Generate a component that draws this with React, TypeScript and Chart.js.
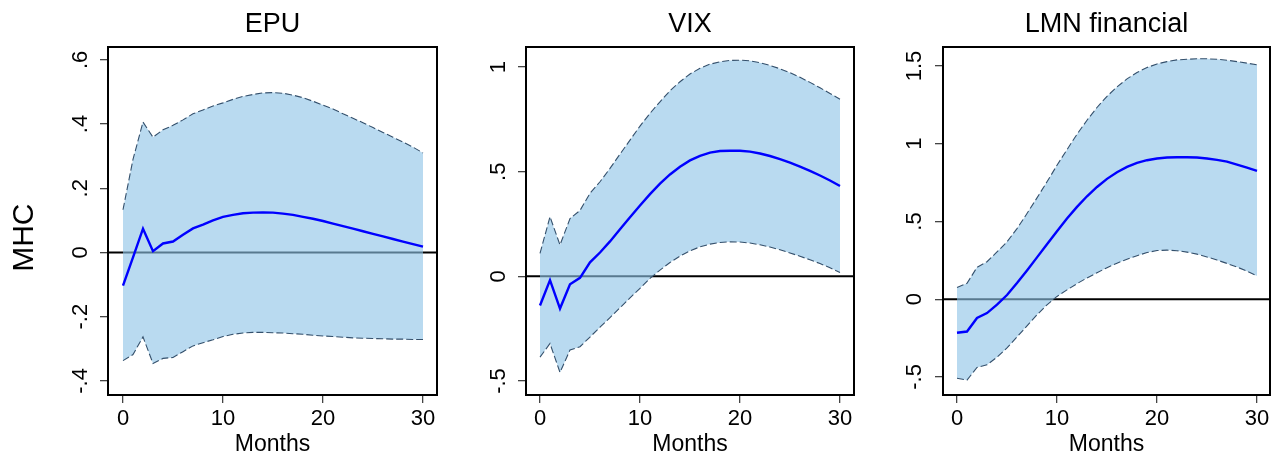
import React, { useEffect, useRef } from 'react';
import { Chart, registerables } from 'chart.js';

Chart.register(...registerables);

const FONT = "'Liberation Sans', Arial, Helvetica, sans-serif";

// ---------- data ----------
const months = [0, 1, 2, 3, 4, 5, 6, 7, 8, 9, 10, 11, 12, 13, 14, 15, 16, 17, 18, 19, 20, 21, 22, 23, 24, 25, 26, 27, 28, 29, 30];
const xTicks = [0, 10, 20, 30];

const epuMean = [-0.103, -0.015, 0.074, 0.004, 0.028, 0.034, 0.055, 0.075, 0.087, 0.100, 0.111, 0.117, 0.122, 0.124, 0.125, 0.124, 0.121, 0.117, 0.111, 0.105, 0.098, 0.090, 0.082, 0.074, 0.066, 0.058, 0.050, 0.042, 0.034, 0.026, 0.018];
const epuUpper = [0.133, 0.29, 0.406, 0.359, 0.382, 0.396, 0.413, 0.432, 0.444, 0.456, 0.466, 0.477, 0.486, 0.492, 0.497, 0.498, 0.496, 0.490, 0.482, 0.471, 0.459, 0.447, 0.432, 0.418, 0.404, 0.389, 0.374, 0.359, 0.344, 0.328, 0.310];
const epuLower = [-0.337, -0.318, -0.263, -0.346, -0.330, -0.327, -0.309, -0.291, -0.281, -0.272, -0.262, -0.255, -0.251, -0.249, -0.249, -0.250, -0.251, -0.253, -0.255, -0.258, -0.260, -0.262, -0.264, -0.266, -0.267, -0.268, -0.269, -0.270, -0.270, -0.271, -0.271];
const epuYTicks = [-0.4, -0.2, 0, 0.2, 0.4, 0.6];

const vixMean = [-0.139, -0.018, -0.154, -0.038, -0.007, 0.067, 0.114, 0.167, 0.225, 0.282, 0.339, 0.393, 0.443, 0.487, 0.524, 0.554, 0.576, 0.591, 0.599, 0.600, 0.600, 0.596, 0.587, 0.575, 0.560, 0.543, 0.524, 0.504, 0.482, 0.458, 0.432];
const vixUpper = [0.110, 0.285, 0.150, 0.276, 0.315, 0.397, 0.452, 0.516, 0.584, 0.651, 0.718, 0.779, 0.834, 0.887, 0.930, 0.967, 0.994, 1.014, 1.025, 1.032, 1.033, 1.030, 1.021, 1.008, 0.992, 0.973, 0.951, 0.927, 0.901, 0.874, 0.846];
const vixLower = [-0.386, -0.321, -0.459, -0.352, -0.336, -0.290, -0.243, -0.197, -0.150, -0.103, -0.057, -0.010, 0.030, 0.066, 0.097, 0.122, 0.141, 0.154, 0.162, 0.165, 0.164, 0.159, 0.151, 0.140, 0.127, 0.112, 0.096, 0.079, 0.061, 0.041, 0.018];
const vixYTicks = [-0.5, 0, 0.5, 1];

const lmnMean = [-0.216, -0.208, -0.121, -0.089, -0.035, 0.027, 0.104, 0.185, 0.269, 0.354, 0.437, 0.519, 0.594, 0.662, 0.722, 0.774, 0.817, 0.851, 0.877, 0.894, 0.905, 0.911, 0.913, 0.913, 0.911, 0.905, 0.896, 0.885, 0.866, 0.846, 0.825];
const lmnUpper = [0.075, 0.102, 0.205, 0.241, 0.304, 0.369, 0.454, 0.551, 0.652, 0.755, 0.862, 0.962, 1.061, 1.151, 1.233, 1.305, 1.365, 1.417, 1.458, 1.490, 1.513, 1.528, 1.539, 1.543, 1.546, 1.546, 1.543, 1.537, 1.528, 1.518, 1.507];
const lmnLower = [-0.508, -0.520, -0.439, -0.422, -0.373, -0.313, -0.243, -0.171, -0.100, -0.036, 0.018, 0.060, 0.100, 0.137, 0.170, 0.203, 0.232, 0.257, 0.280, 0.300, 0.313, 0.316, 0.312, 0.303, 0.290, 0.272, 0.252, 0.230, 0.207, 0.180, 0.150];
const lmnYTicks = [-0.5, 0, 0.5, 1, 1.5];

const panelTitles = ['EPU', 'VIX', 'LMN financial'];
const yAxisTitle = 'MHC';
const xAxisTitle = 'Months';

// ---------- styles ----------
const BAND = 'rgba(142,196,230,0.62)';
const EDGE = '#34506c';
const MEAN = '#0000ff';
const TICK = '#444444';

function fmt(v: number): string {
  if (Math.abs(v) < 1e-9) return '0';
  const s = (Math.round(v * 10) / 10).toString();
  return s.replace(/^(-?)0\./, '$1.');
}

const framePlugin = {
  id: 'frameAndZero',
  beforeDraw(chart: any) {
    const { ctx, chartArea, scales } = chart;
    const y = scales.y.getPixelForValue(0);
    ctx.save();
    ctx.strokeStyle = '#000';
    ctx.lineWidth = 2;
    ctx.beginPath();
    ctx.moveTo(chartArea.left, y);
    ctx.lineTo(chartArea.right, y);
    ctx.stroke();
    ctx.restore();
  },
  afterDraw(chart: any) {
    const { ctx, chartArea } = chart;
    ctx.save();
    ctx.strokeStyle = '#000';
    ctx.lineWidth = 2;
    ctx.strokeRect(chartArea.left, chartArea.top, chartArea.right - chartArea.left, chartArea.bottom - chartArea.top);
    ctx.restore();
  },
};

interface PanelProps {
  title: string;
  mean: number[];
  upper: number[];
  lower: number[];
  yTicks: number[];
  yMin: number;
  yMax: number;
  xMin: number;
  xMax: number;
  left: number;
  width: number;
  yAxisWidth: number;
  rightPad: number;
  tickPad: number;
  showYTitle: boolean;
}

const HEIGHT = 452;

function Panel(p: PanelProps) {
  const ref = useRef<HTMLCanvasElement | null>(null);
  useEffect(() => {
    if (!ref.current) return;
    const pts = (arr: number[]) => arr.map((y, i) => ({ x: months[i], y }));
    const gridOpts = {
      display: true,
      drawOnChartArea: false,
      drawTicks: true,
      tickLength: 8,
      color: TICK,
      lineWidth: 1.3,
    };
    const chart = new Chart(ref.current, {
      type: 'line',
      data: {
        datasets: [
          { data: pts(p.mean), borderColor: MEAN, borderWidth: 2.4, pointRadius: 0, fill: false, tension: 0 },
          { data: pts(p.upper), borderColor: EDGE, borderWidth: 1.1, borderDash: [7, 3], pointRadius: 0, fill: '+1', backgroundColor: BAND, tension: 0 },
          { data: pts(p.lower), borderColor: EDGE, borderWidth: 1.1, borderDash: [7, 3], pointRadius: 0, fill: false, tension: 0 },
        ],
      },
      options: {
        responsive: false,
        animation: false,
        events: [],
        layout: { padding: { left: 0, right: p.rightPad, top: 0, bottom: 0 } },
        plugins: {
          legend: { display: false },
          tooltip: { enabled: false },
          filler: { drawTime: 'beforeDatasetsDraw' },
          title: {
            display: true,
            text: p.title,
            fullSize: false,
            color: '#000',
            font: { family: FONT, size: 27, weight: 'normal', lineHeight: 1.2 },
            padding: { top: 8.4, bottom: 6.2 },
          },
        },
        scales: {
          x: {
            type: 'linear',
            min: p.xMin,
            max: p.xMax,
            afterBuildTicks: (s: any) => {
              s.ticks = xTicks.map((v) => ({ value: v }));
            },
            afterFit: (s: any) => {
              s.height = 57;
            },
            grid: gridOpts,
            border: { display: false },
            ticks: { color: '#000', font: { family: FONT, size: 22 }, padding: 2.3, autoSkip: false, maxRotation: 0, minRotation: 0 },
            title: {
              display: true,
              text: xAxisTitle,
              color: '#000',
              font: { family: FONT, size: 23, lineHeight: 0.65 },
              padding: 0,
            },
          },
          y: {
            type: 'linear',
            min: p.yMin,
            max: p.yMax,
            afterBuildTicks: (s: any) => {
              s.ticks = p.yTicks.map((v) => ({ value: v }));
            },
            afterFit: (s: any) => {
              s.width = p.yAxisWidth;
            },
            grid: gridOpts,
            border: { display: false },
            ticks: {
              color: '#000',
              font: { family: FONT, size: 22 },
              padding: p.tickPad,
              autoSkip: false,
              minRotation: 90,
              maxRotation: 90,
              crossAlign: 'center',
              callback: (v: any) => fmt(Number(v)),
            },
            title: p.showYTitle
              ? {
                  display: true,
                  text: yAxisTitle + '    ',
                  color: '#000',
                  font: { family: FONT, size: 30, lineHeight: 1 },
                  padding: { top: 10, bottom: 0 },
                }
              : { display: false },
          },
        },
      } as any,
      plugins: [framePlugin],
    } as any);
    return () => chart.destroy();
  }, []);
  return (
    <div style={{ position: 'absolute', left: p.left, top: 0, width: p.width, height: HEIGHT }}>
      <canvas ref={ref} width={p.width} height={HEIGHT} />
    </div>
  );
}

export default function App() {
  return (
    <div style={{ position: 'absolute', left: 0, top: 0, width: 1273, height: HEIGHT, background: '#fff', overflow: 'hidden' }}>
      <Panel title={panelTitles[0]} mean={epuMean} upper={epuUpper} lower={epuLower} yTicks={epuYTicks}
        yMin={-0.444} yMax={0.64} xMin={-1.5} xMax={31.4} left={0} width={440} yAxisWidth={108} rightPad={3} tickPad={6.2} showYTitle={true} />
      <Panel title={panelTitles[1]} mean={vixMean} upper={vixUpper} lower={vixLower} yTicks={vixYTicks}
        yMin={-0.567} yMax={1.096} xMin={-1.4} xMax={31.4} left={440} width={430} yAxisWidth={86} rightPad={16} tickPad={6.2} showYTitle={false} />
      <Panel title={panelTitles[2]} mean={lmnMean} upper={lmnUpper} lower={lmnLower} yTicks={lmnYTicks}
        yMin={-0.616} yMax={1.622} xMin={-1.4} xMax={31.3} left={870} width={403} yAxisWidth={73} rightPad={3} tickPad={4.5} showYTitle={false} />
    </div>
  );
}
